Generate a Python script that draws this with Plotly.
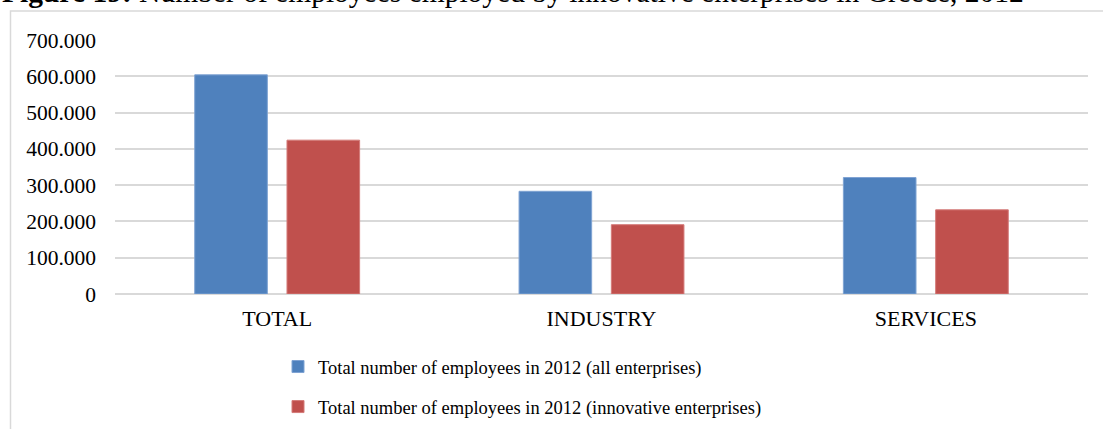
import plotly.graph_objects as go

# Sectors and employee counts for 2012
categories = ["TOTAL", "INDUSTRY", "SERVICES"]
all_enterprises = [604000, 283000, 321000]
innovative_enterprises = [424000, 191000, 232000]

series_names = [
    "Total number of employees in 2012 (all enterprises)",
    "Total number of employees in 2012 (innovative enterprises)",
]
tick_values = [0, 100000, 200000, 300000, 400000, 500000, 600000, 700000]

W, H = 1103, 429
L, R, T, B = 115, 15, 40, 135
pw, ph = W - L - R, H - T - B


def px_x(x):
    return (x - L) / pw


def px_y(y):
    return (H - B - y) / ph


FONT = "Liberation Serif, Times New Roman, serif"

fig = go.Figure()
fig.add_trace(go.Bar(
    x=categories, y=all_enterprises, name=series_names[0],
    marker=dict(color="#4F81BD", line=dict(color="#7FA3D3", width=1)),
    legendgroup="a",
))
fig.add_trace(go.Bar(
    x=categories, y=innovative_enterprises, name=series_names[1],
    marker=dict(color="#C0504D", line=dict(color="#D47B79", width=1)),
    legendgroup="b",
))

fig.update_layout(
    width=W, height=H,
    margin=dict(l=L, r=R, t=T, b=B, pad=0, autoexpand=False),
    paper_bgcolor="white", plot_bgcolor="white",
    barmode="group", bargap=0.431, bargroupgap=0.213,
    separators=",.",
    font=dict(family=FONT, size=21, color="#000000"),
    showlegend=True,
    legend=dict(
        xref="container", yref="container",
        x=278 / W, y=1 - 348 / H, xanchor="left", yanchor="top",
        orientation="v", traceorder="grouped", tracegroupgap=13,
        font=dict(family=FONT, size=18.5, color="#000000"),
        itemwidth=30, bgcolor="rgba(0,0,0,0)",
    ),
    xaxis=dict(
        showgrid=False, showline=False, ticks="", ticklabelstandoff=9,
        tickfont=dict(family=FONT, size=22),
    ),
    yaxis=dict(
        range=[0, 700000], tickvals=tick_values, tickformat=",d",
        showgrid=True, gridcolor="#D9D9D9", gridwidth=2,
        zeroline=True, zerolinecolor="#D9D9D9", zerolinewidth=2,
        showline=False, ticks="", ticklabelstandoff=18,
        tickfont=dict(family=FONT, size=21.5),
    ),
)

# Chart frame
fig.add_shape(
    type="rect", xref="paper", yref="paper",
    x0=px_x(10.5), x1=px_x(W + 20), y0=px_y(H + 20), y1=px_y(11),
    line=dict(color="#D9D9D9", width=1.5), fillcolor="rgba(0,0,0,0)", layer="below",
)

# Figure caption
fig.add_annotation(
    xref="paper", yref="paper", x=px_x(0), y=px_y(10),
    xanchor="left", yanchor="bottom", showarrow=False,
    text="<b>Figure 19:</b> Number of employees employed by innovative enterprises in Greece, 2012",
    font=dict(family=FONT, size=29.5, color="#000000"),
)

fig.write_html("out.html")
